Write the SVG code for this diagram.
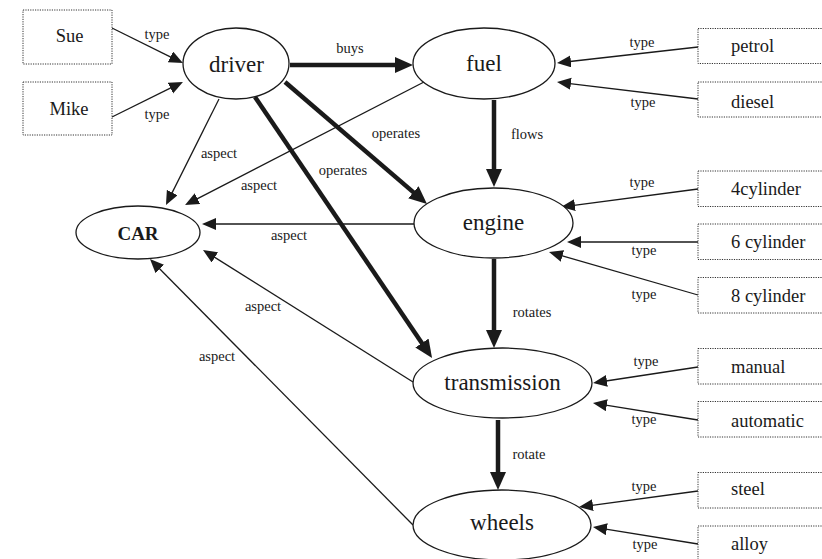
<svg xmlns="http://www.w3.org/2000/svg" width="822" height="559" viewBox="0 0 822 559">
<style>
.box{fill:#fff;stroke:#333;stroke-width:1;stroke-dasharray:1.2,1.2}
.ell{fill:#fff;stroke:#1a1a1a;stroke-width:1.3}
.nt{font-family:"Liberation Serif","Times New Roman",serif;font-size:23px;fill:#1a1a1a;text-anchor:middle}
.bt{font-family:"Liberation Serif","Times New Roman",serif;font-size:18.5px;fill:#1a1a1a}
.lb{font-family:"Liberation Serif","Times New Roman",serif;font-size:14.5px;fill:#1a1a1a;text-anchor:middle}
.thin{stroke:#1a1a1a;stroke-width:1.3;fill:none;marker-end:url(#ah)}
.thick{stroke:#1a1a1a;stroke-width:4.5;fill:none;marker-end:url(#ahb)}
</style>
<defs>
<marker id="ah" markerUnits="userSpaceOnUse" markerWidth="15" markerHeight="13" refX="1" refY="6" orient="auto"><path d="M0,0 L14,6 L0,12 z" fill="#1a1a1a"/></marker>
<marker id="ahb" markerUnits="userSpaceOnUse" markerWidth="19" markerHeight="17" refX="1" refY="8" orient="auto"><path d="M0,0 L18,8 L0,16 z" fill="#1a1a1a"/></marker>
</defs>
<rect width="822" height="559" fill="#fff"/>
<g id="connectors">
<line class="thin" x1="112" y1="28" x2="171.3" y2="57.3"/>
<line class="thin" x1="112" y1="117" x2="171.3" y2="87.7"/>
<line class="thick" x1="290" y1="65" x2="396" y2="65"/>
<line class="thin" x1="219" y1="99" x2="171.8" y2="193.4"/>
<line class="thin" x1="424" y1="82" x2="196.6" y2="199.1"/>
<line class="thick" x1="285" y1="82" x2="414.1" y2="192.9"/>
<line class="thick" x1="255" y1="97" x2="422.5" y2="343.9"/>
<line class="thin" x1="414" y1="224" x2="215" y2="224"/>
<line class="thin" x1="413" y1="382" x2="214" y2="256.9"/>
<line class="thin" x1="413" y1="525" x2="159.1" y2="268.2"/>
<line class="thick" x1="494" y1="100" x2="494" y2="170"/>
<line class="thick" x1="494" y1="259" x2="494" y2="331"/>
<line class="thick" x1="498" y1="420" x2="498" y2="473"/>
<line class="thin" x1="698" y1="47" x2="569.9" y2="61.5"/>
<line class="thin" x1="698" y1="99" x2="569.9" y2="83.6"/>
<line class="thin" x1="698" y1="189" x2="573.9" y2="205.3"/>
<line class="thin" x1="698" y1="242" x2="580" y2="242"/>
<line class="thin" x1="698" y1="295" x2="561.5" y2="255.6"/>
<line class="thin" x1="698" y1="367" x2="605.9" y2="381"/>
<line class="thin" x1="698" y1="420" x2="605.8" y2="405.1"/>
<line class="thin" x1="698" y1="491" x2="591.9" y2="505.3"/>
<line class="thin" x1="698" y1="544" x2="605.8" y2="529.1"/>
<text class="lb" x="157" y="39">type</text>
<text class="lb" x="157" y="119">type</text>
<text class="lb" x="350" y="53">buys</text>
<text class="lb" x="219" y="158">aspect</text>
<text class="lb" x="259" y="190">aspect</text>
<text class="lb" x="396" y="138">operates</text>
<text class="lb" x="343" y="175">operates</text>
<text class="lb" x="289" y="240">aspect</text>
<text class="lb" x="263" y="311">aspect</text>
<text class="lb" x="217" y="361">aspect</text>
<text class="lb" x="527" y="139">flows</text>
<text class="lb" x="532" y="317">rotates</text>
<text class="lb" x="529" y="459">rotate</text>
<text class="lb" x="642" y="47">type</text>
<text class="lb" x="643" y="107">type</text>
<text class="lb" x="642" y="187">type</text>
<text class="lb" x="644" y="255">type</text>
<text class="lb" x="644" y="299">type</text>
<text class="lb" x="646" y="366">type</text>
<text class="lb" x="644" y="424">type</text>
<text class="lb" x="644" y="491">type</text>
<text class="lb" x="645" y="549">type</text>
</g>
<g id="driver"><ellipse class="ell" cx="236" cy="63.5" rx="53" ry="35.5"/><text class="nt" x="236.5" y="72">driver</text></g>
<g id="fuel"><ellipse class="ell" cx="484" cy="63.5" rx="71" ry="35.5"/><text class="nt" x="484" y="71">fuel</text></g>
<g id="engine"><ellipse class="ell" cx="493.5" cy="223" rx="79.5" ry="35"/><text class="nt" x="493.5" y="230">engine</text></g>
<g id="CAR"><ellipse class="ell" cx="138" cy="232.5" rx="62" ry="26.5"/><text class="nt" x="138" y="240" style="font-weight:bold;font-size:19px">CAR</text></g>
<g id="transmission"><ellipse class="ell" cx="502.5" cy="383" rx="89.5" ry="35"/><text class="nt" x="502.5" y="390">transmission</text></g>
<g id="wheels"><ellipse class="ell" cx="502" cy="525" rx="89" ry="35"/><text class="nt" x="502" y="530">wheels</text></g>
<g id="Sue"><rect class="box" x="23" y="10" width="89" height="54"/><text class="bt" x="69.5" y="42" text-anchor="middle">Sue</text></g>
<g id="Mike"><rect class="box" x="23" y="82" width="89" height="53"/><text class="bt" x="69" y="115" text-anchor="middle">Mike</text></g>
<g id="petrol"><rect class="box" x="698" y="28.5" width="140" height="35"/><text class="bt" x="731" y="52">petrol</text></g>
<g id="diesel"><rect class="box" x="698" y="82" width="140" height="35"/><text class="bt" x="731" y="108">diesel</text></g>
<g id="cyl4"><rect class="box" x="698" y="171" width="140" height="35.5"/><text class="bt" x="731" y="195">4cylinder</text></g>
<g id="cyl6"><rect class="box" x="698" y="224" width="140" height="35.5"/><text class="bt" x="731" y="248">6 cylinder</text></g>
<g id="cyl8"><rect class="box" x="698" y="277.5" width="140" height="35.5"/><text class="bt" x="731" y="302">8 cylinder</text></g>
<g id="manual"><rect class="box" x="698" y="348.5" width="140" height="35.5"/><text class="bt" x="731" y="373">manual</text></g>
<g id="automatic"><rect class="box" x="698" y="401.5" width="140" height="35.5"/><text class="bt" x="731" y="427">automatic</text></g>
<g id="steel"><rect class="box" x="698" y="472.5" width="140" height="35.5"/><text class="bt" x="731" y="495">steel</text></g>
<g id="alloy"><rect class="box" x="698" y="526" width="140" height="40"/><text class="bt" x="731" y="550">alloy</text></g>
</svg>
